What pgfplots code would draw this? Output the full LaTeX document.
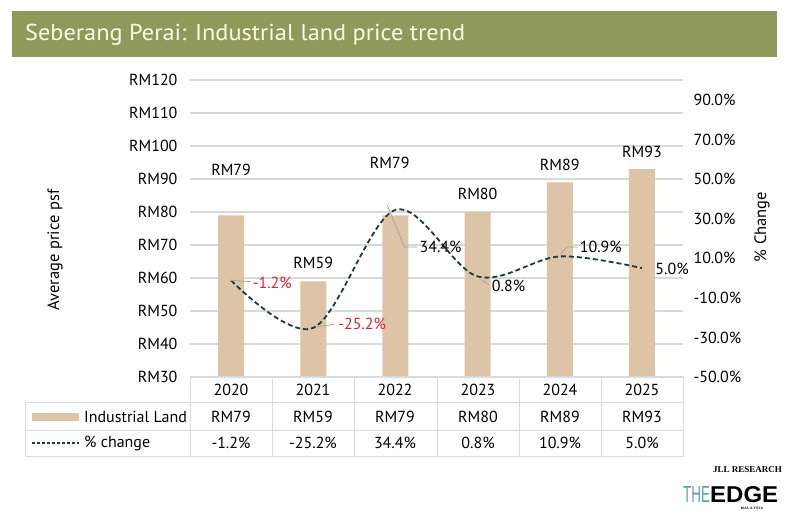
\documentclass[border=0pt]{standalone}
\usepackage{pgfplots}
\pgfplotsset{compat=1.18}
\usepackage{fontspec}
\setmainfont{PT Sans}
\newfontfamily\seriffont{Liberation Serif}
\newfontfamily\logofont{Liberation Sans}
\definecolor{titlebar}{RGB}{142,153,90}
\definecolor{cream}{RGB}{255,250,228}
\definecolor{bartan}{RGB}{222,196,166}
\definecolor{linecol}{RGB}{32,58,68}
\definecolor{gridgray}{RGB}{217,217,217}
\definecolor{tablegray}{RGB}{213,220,228}
\definecolor{leader}{RGB}{165,165,165}
\definecolor{redlab}{RGB}{226,32,43}
\definecolor{edgeblue}{RGB}{95,160,180}
\newcommand{\fs}{\fontsize{16}{18}\selectfont}
\begin{document}
\begin{tikzpicture}[x=1pt,y=1pt]
\useasboundingbox (0,0) rectangle (800,516);
\fill[white] (0,0) rectangle (800,516);
% title bar
\fill[titlebar] (12,459) rectangle (777,505);
\node[anchor=west, text=cream, inner sep=0] at (25,481) {\resizebox{440pt}{\height}{\fontsize{23}{26}\selectfont Seberang Perai: Industrial land price trend}};

\begin{axis}[
  at={(190pt,139pt)}, anchor=south west, scale only axis,
  width=493pt, height=297pt,
  xmin=-0.5, xmax=5.5, ymin=30, ymax=120,
  ytick={30,40,...,120},
  yticklabels={RM30,RM40,RM50,RM60,RM70,RM80,RM90,RM100,RM110,RM120},
  xtick=\empty,
  axis line style={draw=none}, major tick length=0pt,
  ymajorgrids, grid style={color=gridgray, line width=1.2pt},
  yticklabel style={font=\fs, xshift=-9pt},
  clip=false,
]
\addplot[ybar, bar width=26pt, bar shift=0pt, fill=bartan, draw=none] coordinates {(0,79) (1,59) (2,79) (3,80) (4,89) (5,93)};
\node[font=\fs] at (axis cs:0,92.7) {RM79};
\node[font=\fs] at (axis cs:1,64.5) {RM59};
\node[font=\fs] at (axis cs:1.93,94.8) {RM79};
\node[font=\fs] at (axis cs:3,85.5) {RM80};
\node[font=\fs] at (axis cs:4,94.2) {RM89};
\node[font=\fs] at (axis cs:5,98.2) {RM93};
\end{axis}

\begin{axis}[
  at={(190pt,139pt)}, anchor=south west, scale only axis,
  width=493pt, height=297pt,
  xmin=-0.5, xmax=5.5, ymin=-50, ymax=100,
  axis y line*=right, axis x line=none,
  ytick={-50,-30,...,90},
  yticklabels={-50.0\%,-30.0\%,-10.0\%,10.0\%,30.0\%,50.0\%,70.0\%,90.0\%},
  axis line style={draw=none}, major tick length=0pt,
  yticklabel style={font=\fs, xshift=7pt},
  clip=false,
]
\addplot[smooth, tension=0.55, color=linecol, line width=1.8pt, dash pattern=on 5pt off 3pt] coordinates {(0,-1.2) (1,-25.2) (2,34.4) (3,0.8) (4,10.9) (5,5.0)};
% leaders
\draw[leader, line width=0.8pt] (axis cs:0,-1.2) -- (axis cs:0.24,-1.8);
\draw[leader, line width=0.8pt] (axis cs:1.05,-24.5) -- (axis cs:1.25,-23.5);
\draw[leader, line width=0.8pt] (axis cs:1.9,36.9) -- (axis cs:2.11,15.7) -- (axis cs:2.27,15.7);
\draw[leader, line width=0.8pt] (axis cs:3.05,-1) -- (axis cs:3.14,-3.5);
\draw[leader, line width=0.8pt] (axis cs:4.01,12) -- (axis cs:4.09,15.7) -- (axis cs:4.22,15.7);
\node[font=\fs, text=redlab, anchor=west, inner sep=1pt] at (axis cs:0.25,-2.5) {-1.2\%};
\node[font=\fs, text=redlab, anchor=west, inner sep=1pt] at (axis cs:1.29,-23.2) {-25.2\%};
\node[font=\fs, anchor=west, inner sep=1pt] at (axis cs:2.28,15.7) {34.4\%};
\node[font=\fs, anchor=west, inner sep=1pt] at (axis cs:3.16,-4) {0.8\%};
\node[font=\fs, anchor=west, inner sep=1pt] at (axis cs:4.23,15.7) {10.9\%};
\node[font=\fs, anchor=west, inner sep=1pt] at (axis cs:5.15,4.5) {5.0\%};
\end{axis}

% axis titles
\node[rotate=90, font=\fontsize{16.5}{18}\selectfont] at (55,266) {Average price psf};
\node[rotate=90, font=\fontsize{16.5}{18}\selectfont] at (762,289) {\% Change};

% table
\begin{scope}[tablegray, line width=1pt]
\draw (190,139) -- (683,139);
\draw (25,113) -- (683,113);
\draw (25,85) -- (683,85);
\draw (25,59) -- (683,59);
\draw (25,113) -- (25,59);
\foreach \xx in {190,272,354,437,519,601,683} {\draw (\xx,139) -- (\xx,59);}
\end{scope}
\fill[bartan] (32,95) rectangle (79,103);
\draw[linecol, line width=1.5pt, dash pattern=on 3pt off 2pt] (32,73) -- (79,73);
\node[font=\fs, anchor=west, inner sep=0] at (84,99) {Industrial Land};
\node[font=\fs, anchor=west, inner sep=0] at (84,73) {\% change};
\foreach \xx/\yr/\rm/\pc in {231/2020/RM79/-1.2\%, 313/2021/RM59/-25.2\%, 395/2022/RM79/34.4\%, 478/2023/RM80/0.8\%, 560/2024/RM89/10.9\%, 642/2025/RM93/5.0\%} {
  \node[font=\fs] at (\xx,126) {\yr};
  \node[font=\fs] at (\xx,99) {\rm};
  \node[font=\fs] at (\xx,73) {\pc};
}

% source & logo
\node[anchor=east, inner sep=0, font=\seriffont\bfseries\fontsize{9}{11}\selectfont] at (782,46) {JLL RESEARCH};
\node[anchor=south west, inner sep=0, text=edgeblue] at (683,13) {\resizebox{27pt}{16pt}{\logofont THE}};
\node[anchor=south west, inner sep=0] at (710,13) {\resizebox{68pt}{16pt}{\logofont\bfseries EDGE}};
\node[anchor=north, inner sep=0, font=\logofont\bfseries\fontsize{3.5}{4}\selectfont] at (752,9) {M\,A\,L\,A\,Y\,S\,I\,A};
\end{tikzpicture}
\end{document}
